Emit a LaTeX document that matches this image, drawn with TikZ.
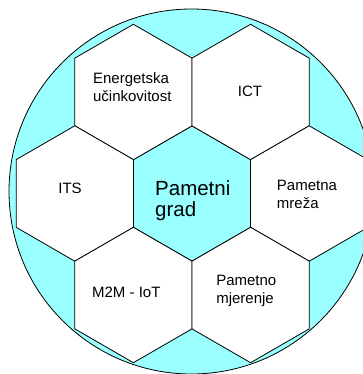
\documentclass[tikz,border=0pt]{standalone}
\usepackage{fontspec}
\setmainfont{Liberation Sans}
\usepackage{xcolor}
\usetikzlibrary{shapes.geometric, positioning}
\definecolor{ballcyan}{HTML}{99FFFF}

\begin{document}
\begin{tikzpicture}[x=1pt, y=1pt, node distance={101.5pt and 58.6pt}, on grid]
	\tikzstyle{hex} = [draw, regular polygon, regular polygon sides=6, shape border rotate=90, minimum size=135.4pt, inner sep=0pt, outer sep=0pt, fill=white, line width=0.8pt]
	\tikzstyle{txt} = [align=left, inner sep=0pt, font=\fontsize{15}{17.7}\selectfont]
	\useasboundingbox (0,0) rectangle (362,374);
	\draw[fill=ballcyan, line width=0.8pt] (191.5,182.5) circle (182.5);
	\node[hex, fill=ballcyan] (grad) at (192,180.5) {};
	\node[hex] (energ) [above left=of grad] {};
	\node[hex] (ict) [above right=of grad] {};
	\node[hex] (its) [left=117.2pt of grad] {};
	\node[hex] (mreza) [right=117.2pt of grad] {};
	\node[hex] (m2m) [below left=of grad] {};
	\node[hex] (mjer) [below right=of grad] {};
	\node[txt, font=\fontsize{20.5}{21.7}\selectfont] (grad-t) at ([shift={(0.8,-7.3)}]grad.center) {Pametni\\grad};
	\node[txt] (energ-t) at ([shift={(-1.1,4.7)}]energ.center) {Energetska\\učinkovitost};
	\node[txt] (ict-t) at ([shift={(-0.6,0.7)}]ict.center) {ICT};
	\node[txt] (its-t) at ([shift={(-4.8,4.9)}]its.center) {ITS};
	\node[txt] (mreza-t) at ([shift={(-2.2,-1)}]mreza.center) {Pametna\\mreža};
	\node[txt] (m2m-t) at ([shift={(-7.1,2.7)}]m2m.center) {M2M - IoT};
	\node[txt] (mjer-t) at ([shift={(-4.3,4.2)}]mjer.center) {Pametno\\mjerenje};
\end{tikzpicture}
\end{document}
